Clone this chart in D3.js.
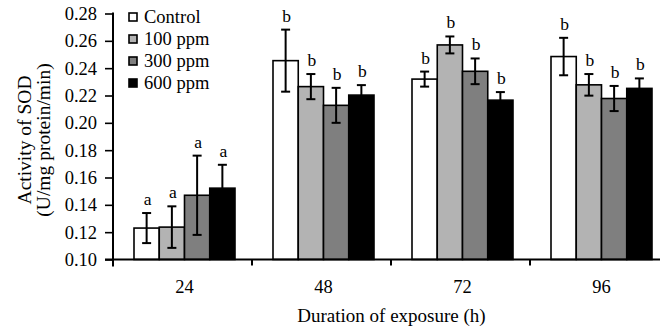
<!DOCTYPE html>
<html>
<head>
<meta charset="utf-8">
<script src="https://cdn.jsdelivr.net/npm/d3@7"></script>
<style>
  html, body { margin: 0; padding: 0; background: #fff; }
  svg { display: block; }
  text { font-family: "Liberation Serif", "Times New Roman", serif; fill: #000; }
</style>
</head>
<body>
<svg id="chart" width="660" height="329"></svg>
<script>
// ---- data ----
const durations = ["24", "48", "72", "96"];
const series = ["Control", "100 ppm", "300 ppm", "600 ppm"];
const control   = [0.123, 0.2455, 0.232, 0.2485];
const ppm100    = [0.1237, 0.2265, 0.257, 0.2278];
const ppm300    = [0.147, 0.2128, 0.2377, 0.2178];
const ppm600    = [0.1522, 0.2203, 0.2166, 0.2252];
const errControl = [0.011, 0.0227, 0.0055, 0.0137];
const err100     = [0.0152, 0.0092, 0.0062, 0.0079];
const err300     = [0.029, 0.0128, 0.0094, 0.0092];
const err600     = [0.0171, 0.0073, 0.0059, 0.0073];
const letters = [["a","a","a","a"],["b","b","b","b"],["b","b","b","b"],["b","b","b","b"]];
const yTicks = [0.10, 0.12, 0.14, 0.16, 0.18, 0.20, 0.22, 0.24, 0.26, 0.28];
const colors = ["#ffffff", "#b3b3b3", "#7f7f7f", "#000000"];
const yTitle = ["Activity of SOD", "(U/mg protein/min)"];
const xTitle = "Duration of exposure (h)";

const values = [control, ppm100, ppm300, ppm600];
const errors = [errControl, err100, err300, err600];

const svg = d3.select("#chart");
const y = d3.scaleLinear().domain([0.10, 0.28]).range([259.5, 13.5]);
const x = d3.scaleBand().domain(durations).range([113, 669]);
const xi = d3.scaleBand().domain(series).range([-50.5, 50.5]);
const groupShift = 2;

// bars
const data = [];
durations.forEach((d, gi) => {
  series.forEach((s, si) => {
    data.push({dur: d, ser: s, si, v: values[si][gi], e: errors[si][gi], lab: letters[gi][si]});
  });
});
const bx = d => x(d.dur) + x.bandwidth() / 2 + groupShift + xi(d.ser);

svg.append("g").selectAll("rect").data(data).join("rect")
  .attr("x", bx)
  .attr("y", d => y(d.v))
  .attr("width", xi.bandwidth())
  .attr("height", d => y(0.10) - y(d.v))
  .attr("fill", d => colors[d.si])
  .attr("stroke", "#000")
  .attr("stroke-width", 1.6);

// error bars
const eg = svg.append("g").attr("stroke", "#000").attr("stroke-width", 2);
data.forEach(d => {
  const cx = bx(d) + xi.bandwidth() / 2;
  eg.append("line").attr("x1", cx).attr("x2", cx).attr("y1", y(d.v + d.e)).attr("y2", y(d.v - d.e));
  eg.append("line").attr("x1", cx - 4.5).attr("x2", cx + 4.5).attr("y1", y(d.v + d.e)).attr("y2", y(d.v + d.e));
  eg.append("line").attr("x1", cx - 4.5).attr("x2", cx + 4.5).attr("y1", y(d.v - d.e)).attr("y2", y(d.v - d.e));
});

// letters
svg.append("g").selectAll("text").data(data).join("text")
  .attr("x", d => bx(d) + xi.bandwidth() / 2 + 1)
  .attr("y", d => y(d.v + d.e) - 8)
  .attr("text-anchor", "middle")
  .attr("font-size", 17.5)
  .text(d => d.lab);

// y axis
const yAxis = d3.axisLeft(y).tickValues(yTicks).tickFormat(d3.format(".2f")).tickSize(8).tickPadding(8);
const yg = svg.append("g").attr("transform", "translate(113,0)").call(yAxis);
yg.select(".domain").remove();
yg.selectAll(".tick line").attr("stroke", "#000").attr("stroke-width", 1.6);
yg.selectAll(".tick text").attr("font-size", 18.5).attr("font-family", "Liberation Serif, Times New Roman, serif");
svg.append("line").attr("x1", 113).attr("x2", 113).attr("y1", y(0.28) - 1).attr("y2", y(0.10) + 7)
  .attr("stroke", "#000").attr("stroke-width", 2);

// x axis
svg.append("line").attr("x1", 105).attr("x2", 669).attr("y1", y(0.10)).attr("y2", y(0.10))
  .attr("stroke", "#000").attr("stroke-width", 2);
svg.append("g").selectAll("line").data(durations.slice(1)).join("line")
  .attr("x1", d => x(d)).attr("x2", d => x(d))
  .attr("y1", y(0.10)).attr("y2", y(0.10) + 6)
  .attr("stroke", "#000").attr("stroke-width", 2);
svg.append("g").selectAll("text").data(durations).join("text")
  .attr("x", d => x(d) + x.bandwidth() / 2 + groupShift)
  .attr("y", 293)
  .attr("text-anchor", "middle")
  .attr("font-size", 18.5)
  .text(d => d);

// axis titles
svg.append("text").attr("x", 391.5).attr("y", 322).attr("text-anchor", "middle").attr("font-size", 19).text(xTitle);
svg.append("g").selectAll("text").data(yTitle).join("text")
  .attr("transform", (d, i) => `translate(${31 + i * 19},140) rotate(-90)`)
  .attr("text-anchor", "middle")
  .attr("font-size", 19.5)
  .text(d => d);

// legend
const lg = svg.append("g").selectAll("g").data(series).join("g")
  .attr("transform", (d, i) => `translate(129,${17 + i * 22})`);
lg.append("rect").attr("x", 0).attr("y", -4).attr("width", 8).attr("height", 8)
  .attr("fill", (d, i) => colors[i]).attr("stroke", "#000").attr("stroke-width", 1.6);
lg.append("text").attr("x", 15).attr("y", 6).attr("font-size", 18.5).text(d => d);
</script>
</body>
</html>
